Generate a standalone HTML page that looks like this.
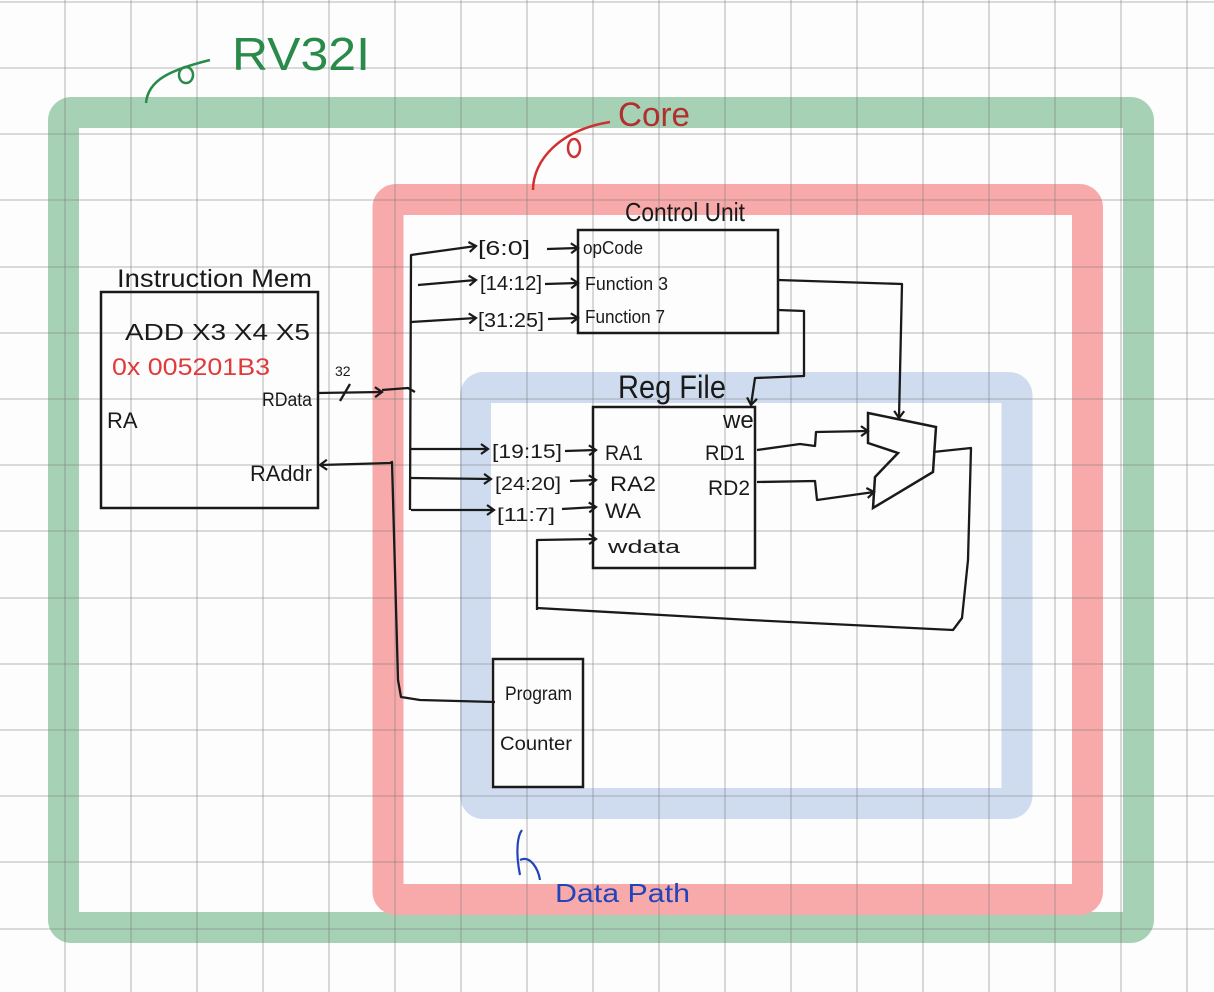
<!DOCTYPE html>
<html><head><meta charset="utf-8"><style>
html,body{margin:0;padding:0;background:#fdfdfd;}
svg{display:block;}
text{font-family:"Liberation Sans",sans-serif;fill:#1a1a1a;}
</style></head><body>
<svg width="1214" height="992" viewBox="0 0 1214 992" xmlns="http://www.w3.org/2000/svg">
<defs>
<marker id="a" markerWidth="12" markerHeight="12" refX="9" refY="6" orient="auto-start-reverse" markerUnits="userSpaceOnUse">
<path d="M2,1 L9,6 L2,11" fill="none" stroke="#1a1a1a" stroke-width="2.2"/>
</marker>
</defs>
<rect width="1214" height="992" fill="#fdfdfd"/>
<rect x="63.5" y="112.5" width="1075" height="815" rx="8" fill="none" stroke="#a6d1b5" stroke-width="31"/>
<rect x="388" y="199.5" width="699.5" height="700" rx="8" fill="none" stroke="#f8aaaa" stroke-width="31"/>
<rect x="475.5" y="387.5" width="541.5" height="416" rx="8" fill="none" stroke="#cfdcf0" stroke-width="31"/>
<g stroke="#777" stroke-opacity="0.35" stroke-width="1.6">
<line x1="65" y1="0" x2="65" y2="992"/><line x1="131" y1="0" x2="131" y2="992"/><line x1="197" y1="0" x2="197" y2="992"/><line x1="263" y1="0" x2="263" y2="992"/><line x1="329" y1="0" x2="329" y2="992"/><line x1="395" y1="0" x2="395" y2="992"/><line x1="461" y1="0" x2="461" y2="992"/><line x1="527" y1="0" x2="527" y2="992"/><line x1="593" y1="0" x2="593" y2="992"/><line x1="659" y1="0" x2="659" y2="992"/><line x1="725" y1="0" x2="725" y2="992"/><line x1="791" y1="0" x2="791" y2="992"/><line x1="857" y1="0" x2="857" y2="992"/><line x1="923" y1="0" x2="923" y2="992"/><line x1="989" y1="0" x2="989" y2="992"/><line x1="1055" y1="0" x2="1055" y2="992"/><line x1="1121" y1="0" x2="1121" y2="992"/><line x1="1187" y1="0" x2="1187" y2="992"/>
<line x1="0" y1="2" x2="1214" y2="2"/><line x1="0" y1="68" x2="1214" y2="68"/><line x1="0" y1="134" x2="1214" y2="134"/><line x1="0" y1="200" x2="1214" y2="200"/><line x1="0" y1="267" x2="1214" y2="267"/><line x1="0" y1="333" x2="1214" y2="333"/><line x1="0" y1="399" x2="1214" y2="399"/><line x1="0" y1="465" x2="1214" y2="465"/><line x1="0" y1="531" x2="1214" y2="531"/><line x1="0" y1="598" x2="1214" y2="598"/><line x1="0" y1="664" x2="1214" y2="664"/><line x1="0" y1="730" x2="1214" y2="730"/><line x1="0" y1="796" x2="1214" y2="796"/><line x1="0" y1="862" x2="1214" y2="862"/><line x1="0" y1="929" x2="1214" y2="929"/>
</g>
<path d="M146,103 C148,80 170,70 210,60" fill="none" stroke="#2a8a4a" stroke-width="2.5"/>
<ellipse cx="186" cy="75" rx="7" ry="8" fill="none" stroke="#2a8a4a" stroke-width="2.5"/>
<text x="232" y="70" font-size="46" textLength="138" lengthAdjust="spacingAndGlyphs" style="fill:#2a8a4a">RV32I</text>
<path d="M533,190 C533,160 560,130 610,122" fill="none" stroke="#d03030" stroke-width="2.5"/>
<ellipse cx="574" cy="148" rx="6" ry="9" fill="none" stroke="#d03030" stroke-width="2.5"/>
<text x="618" y="126" font-size="34" textLength="72" lengthAdjust="spacingAndGlyphs" style="fill:#b03030">Core</text>
<path d="M520,875 C515,850 518,835 522,830 M520,860 C530,855 538,868 540,880" fill="none" stroke="#2244bb" stroke-width="2.2"/>
<text x="555" y="902" font-size="26" textLength="135" lengthAdjust="spacingAndGlyphs" style="fill:#2244bb">Data Path</text>
<g fill="none" stroke="#1a1a1a" stroke-width="2.5">
<rect x="101" y="292" width="217" height="216"/>
<rect x="578" y="230" width="200" height="103"/>
<rect x="593" y="407" width="162" height="161"/>
<rect x="493" y="659" width="90" height="128"/>
<polygon points="868,413 936,427 933,472 873,508 875,477 898,453 868,443"/>
</g>
<text x="117" y="287" font-size="25" textLength="195" lengthAdjust="spacingAndGlyphs">Instruction  Mem</text>
<text x="125" y="340" font-size="23" textLength="185" lengthAdjust="spacingAndGlyphs">ADD  X3  X4  X5</text>
<text x="112" y="375" font-size="24" textLength="158" lengthAdjust="spacingAndGlyphs" style="fill:#e03a3a">0x 005201B3</text>
<text x="107" y="428" font-size="22">RA</text>
<text x="262" y="406" font-size="19" textLength="50" lengthAdjust="spacingAndGlyphs">RData</text>
<text x="250" y="481" font-size="22" textLength="62" lengthAdjust="spacingAndGlyphs">RAddr</text>
<text x="335" y="376" font-size="14">32</text>
<text x="625" y="221" font-size="26" textLength="120" lengthAdjust="spacingAndGlyphs">Control Unit</text>
<text x="583" y="254" font-size="18" textLength="60" lengthAdjust="spacingAndGlyphs">opCode</text>
<text x="585" y="290" font-size="18" textLength="83" lengthAdjust="spacingAndGlyphs">Function 3</text>
<text x="585" y="323" font-size="18" textLength="80" lengthAdjust="spacingAndGlyphs">Function 7</text>
<text x="618" y="398" font-size="32" textLength="108" lengthAdjust="spacingAndGlyphs">Reg  File</text>
<text x="723" y="428" font-size="24">we</text>
<text x="605" y="460" font-size="21" textLength="38" lengthAdjust="spacingAndGlyphs">RA1</text>
<text x="610" y="491" font-size="21" textLength="46" lengthAdjust="spacingAndGlyphs">RA2</text>
<text x="605" y="518" font-size="21" textLength="36" lengthAdjust="spacingAndGlyphs">WA</text>
<text x="608" y="553" font-size="18" textLength="72" lengthAdjust="spacingAndGlyphs">wdata</text>
<text x="705" y="460" font-size="21" textLength="40" lengthAdjust="spacingAndGlyphs">RD1</text>
<text x="708" y="495" font-size="21" textLength="42" lengthAdjust="spacingAndGlyphs">RD2</text>
<text x="505" y="700" font-size="19" textLength="67" lengthAdjust="spacingAndGlyphs">Program</text>
<text x="500" y="750" font-size="19" textLength="72" lengthAdjust="spacingAndGlyphs">Counter</text>
<text x="478" y="255" font-size="20" textLength="52" lengthAdjust="spacingAndGlyphs">[6:0]</text>
<text x="480" y="290" font-size="20" textLength="62" lengthAdjust="spacingAndGlyphs">[14:12]</text>
<text x="478" y="327" font-size="20" textLength="66" lengthAdjust="spacingAndGlyphs">[31:25]</text>
<text x="492" y="458" font-size="19" textLength="70" lengthAdjust="spacingAndGlyphs">[19:15]</text>
<text x="495" y="490" font-size="18" textLength="66" lengthAdjust="spacingAndGlyphs">[24:20]</text>
<text x="497" y="521" font-size="18" textLength="58" lengthAdjust="spacingAndGlyphs">[11:7]</text>
<g fill="none" stroke="#1a1a1a" stroke-width="2.3" stroke-linejoin="round">
<path d="M318,393 L382,392" marker-end="url(#a)"/>
<path d="M340,401 L350,384"/>
<path d="M382,390 L408,388 L415,392"/>
<path d="M410,510 L411,255 L418,254 L476,246" marker-end="url(#a)"/>
<path d="M418,285 L476,280" marker-end="url(#a)"/>
<path d="M411,322 L476,318" marker-end="url(#a)"/>
<path d="M411,449 L488,449" marker-end="url(#a)"/>
<path d="M411,478 L491,479" marker-end="url(#a)"/>
<path d="M411,510 L494,510" marker-end="url(#a)"/>
<path d="M547,249 L578,248" marker-end="url(#a)"/>
<path d="M545,284 L578,283" marker-end="url(#a)"/>
<path d="M548,319 L578,318" marker-end="url(#a)"/>
<path d="M565,451 L596,450" marker-end="url(#a)"/>
<path d="M570,481 L596,480" marker-end="url(#a)"/>
<path d="M562,509 L596,507" marker-end="url(#a)"/>
<path d="M537,610 L537,540 L596,539" marker-end="url(#a)"/>
<path d="M320,465 L390,463 L392,462 L398,680 L401,697 L420,700 L495,702" marker-start="url(#a)"/>
<path d="M778,280 L902,284 L899,418" marker-end="url(#a)"/>
<path d="M778,310 L804,311 L804,376 L755,378 L751,405" marker-end="url(#a)"/>
<path d="M757,450 L800,444 L815,446 L816,432 L868,431" marker-end="url(#a)"/>
<path d="M757,482 L815,481 L817,500 L874,492" marker-end="url(#a)"/>
<path d="M933,452 L971,448 L968,560 L962,618 L953,630 L750,620 L537,608"/>
</g>
</svg>
</body></html>
